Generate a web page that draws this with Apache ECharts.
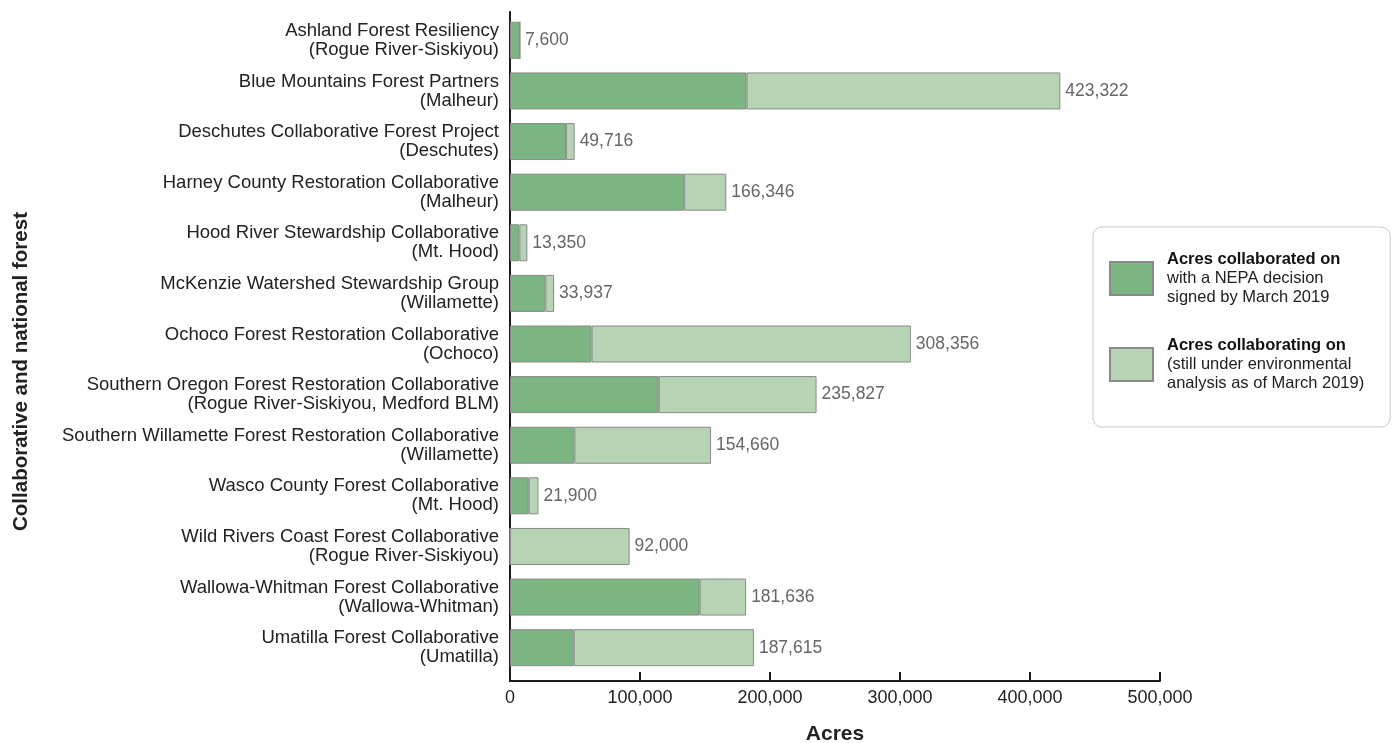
<!DOCTYPE html>
<html><head><meta charset="utf-8">
<script src="https://cdn.jsdelivr.net/npm/echarts@6/dist/echarts.min.js"></script>
<style>html,body{margin:0;padding:0;background:#fff}#c{width:1392px;height:743px}</style>
</head><body><div id="c"></div>
<script>
const categories = [
  'Ashland Forest Resiliency\n(Rogue River-Siskiyou)',
  'Blue Mountains Forest Partners\n(Malheur)',
  'Deschutes Collaborative Forest Project\n(Deschutes)',
  'Harney County Restoration Collaborative\n(Malheur)',
  'Hood River Stewardship Collaborative\n(Mt. Hood)',
  'McKenzie Watershed Stewardship Group\n(Willamette)',
  'Ochoco Forest Restoration Collaborative\n(Ochoco)',
  'Southern Oregon Forest Restoration Collaborative\n(Rogue River-Siskiyou, Medford BLM)',
  'Southern Willamette Forest Restoration Collaborative\n(Willamette)',
  'Wasco County Forest Collaborative\n(Mt. Hood)',
  'Wild Rivers Coast Forest Collaborative\n(Rogue River-Siskiyou)',
  'Wallowa-Whitman Forest Collaborative\n(Wallowa-Whitman)',
  'Umatilla Forest Collaborative\n(Umatilla)'
];
const totals = [7600, 423322, 49716, 166346, 13350, 33937, 308356, 235827, 154660, 21900, 92000, 181636, 187615];
const collaborated = [7600, 182000, 43000, 134000, 7200, 27200, 62800, 114400, 49500, 14400, 0, 145900, 49000];
const collaborating = [0, 241322, 6716, 32346, 6150, 6737, 245556, 121427, 105160, 7500, 92000, 35736, 138615];
const xTicks = { min: 0, max: 500000, interval: 100000 };
const seriesNames = ['Acres collaborated on', 'Acres collaborating on'];

const chart = echarts.init(document.getElementById('c'), null, { renderer: 'canvas' });
const font = 'Liberation Sans, Arial, Helvetica, sans-serif';
const fmt = v => Number(v).toLocaleString('en-US');

chart.setOption({
  animation: false,
  textStyle: { fontFamily: font },
  grid: [
    { left: 510, right: 232, top: 15, bottom: 70, outerBoundsMode: 'none', containLabel: false },
    { left: 510, right: 232, top: 12, bottom: 62, outerBoundsMode: 'none', containLabel: false }
  ],
  xAxis: [
    { gridIndex: 0, type: 'value', min: xTicks.min, max: xTicks.max, interval: xTicks.interval, show: false },
    { gridIndex: 1, type: 'value', min: xTicks.min, max: xTicks.max, interval: xTicks.interval,
      axisLine: { show: true, lineStyle: { color: '#1a1a1a', width: 2 } },
      axisTick: { show: true, inside: true, length: 9, lineStyle: { color: '#1a1a1a', width: 2 } },
      axisLabel: { color: '#222', fontSize: 18, margin: 8, fontFamily: font, formatter: v => fmt(v) },
      splitLine: { show: false },
      name: 'Acres', nameLocation: 'middle', nameGap: 43,
      nameTextStyle: { fontSize: 21, fontWeight: 'bold', color: '#222', fontFamily: font }
    }
  ],
  yAxis: [
    { gridIndex: 0, type: 'category', inverse: true, data: categories,
      axisLine: { show: false }, axisTick: { show: false },
      axisLabel: { color: '#222', fontSize: 18.5, lineHeight: 19, margin: 11, align: 'right', fontFamily: font }
    },
    { gridIndex: 1, type: 'value', min: 0, max: 1,
      axisLine: { show: true, lineStyle: { color: '#1a1a1a', width: 2 } },
      axisTick: { show: false }, axisLabel: { show: false }, splitLine: { show: false },
      name: 'Collaborative and national forest', nameLocation: 'middle', nameGap: 478,
      nameTextStyle: { fontSize: 20.5, fontWeight: 'bold', color: '#222', fontFamily: font, padding: [0, 50, 0, 0] }
    }
  ],
  legend: {
    left: 1093, top: 227, orient: 'vertical',
    data: seriesNames,
    icon: 'rect',
    itemWidth: 43, itemHeight: 33, itemGap: 31,
    backgroundColor: '#fff', borderColor: '#c8c8c8', borderWidth: 1, borderRadius: 9,
    padding: [24, 26, 35, 16],
    selectedMode: false,
    formatter: function (name) {
      if (name === seriesNames[0]) return '{b|Acres collaborated on}\n{n|with a NEPA decision}\n{n|signed by March 2019}';
      return '{b|Acres collaborating on}\n{n|(still under environmental}\n{n|analysis as of March 2019)}';
    },
    textStyle: {
      fontFamily: font,
      rich: {
        b: { fontSize: 16.5, fontWeight: 'bold', color: '#111', lineHeight: 19, padding: [0, 0, 0, 9], fontFamily: font },
        n: { fontSize: 16.5, color: '#222', lineHeight: 19, padding: [0, 0, 0, 9], fontFamily: font }
      }
    }
  },
  series: [
    { name: seriesNames[0], type: 'bar', stack: 'a', xAxisIndex: 0, yAxisIndex: 0, barWidth: 37,
      data: collaborated,
      itemStyle: { color: '#7bb581', borderColor: '#8a8a8a', borderWidth: 1 } },
    { name: seriesNames[1], type: 'bar', stack: 'a', xAxisIndex: 0, yAxisIndex: 0, barWidth: 37,
      data: collaborating,
      itemStyle: { color: '#b6d4b4', borderColor: '#8a8a8a', borderWidth: 1 } },
    { name: 'Total', type: 'bar', xAxisIndex: 0, yAxisIndex: 0, barWidth: 37, barGap: '-100%',
      data: totals, silent: true, z: 1,
      itemStyle: { color: 'rgba(0,0,0,0)', borderWidth: 0 },
      label: { show: true, position: 'right', distance: 5, color: '#666', fontSize: 17.5, fontFamily: font,
               formatter: p => fmt(p.value) } }
  ]
});
</script></body></html>
